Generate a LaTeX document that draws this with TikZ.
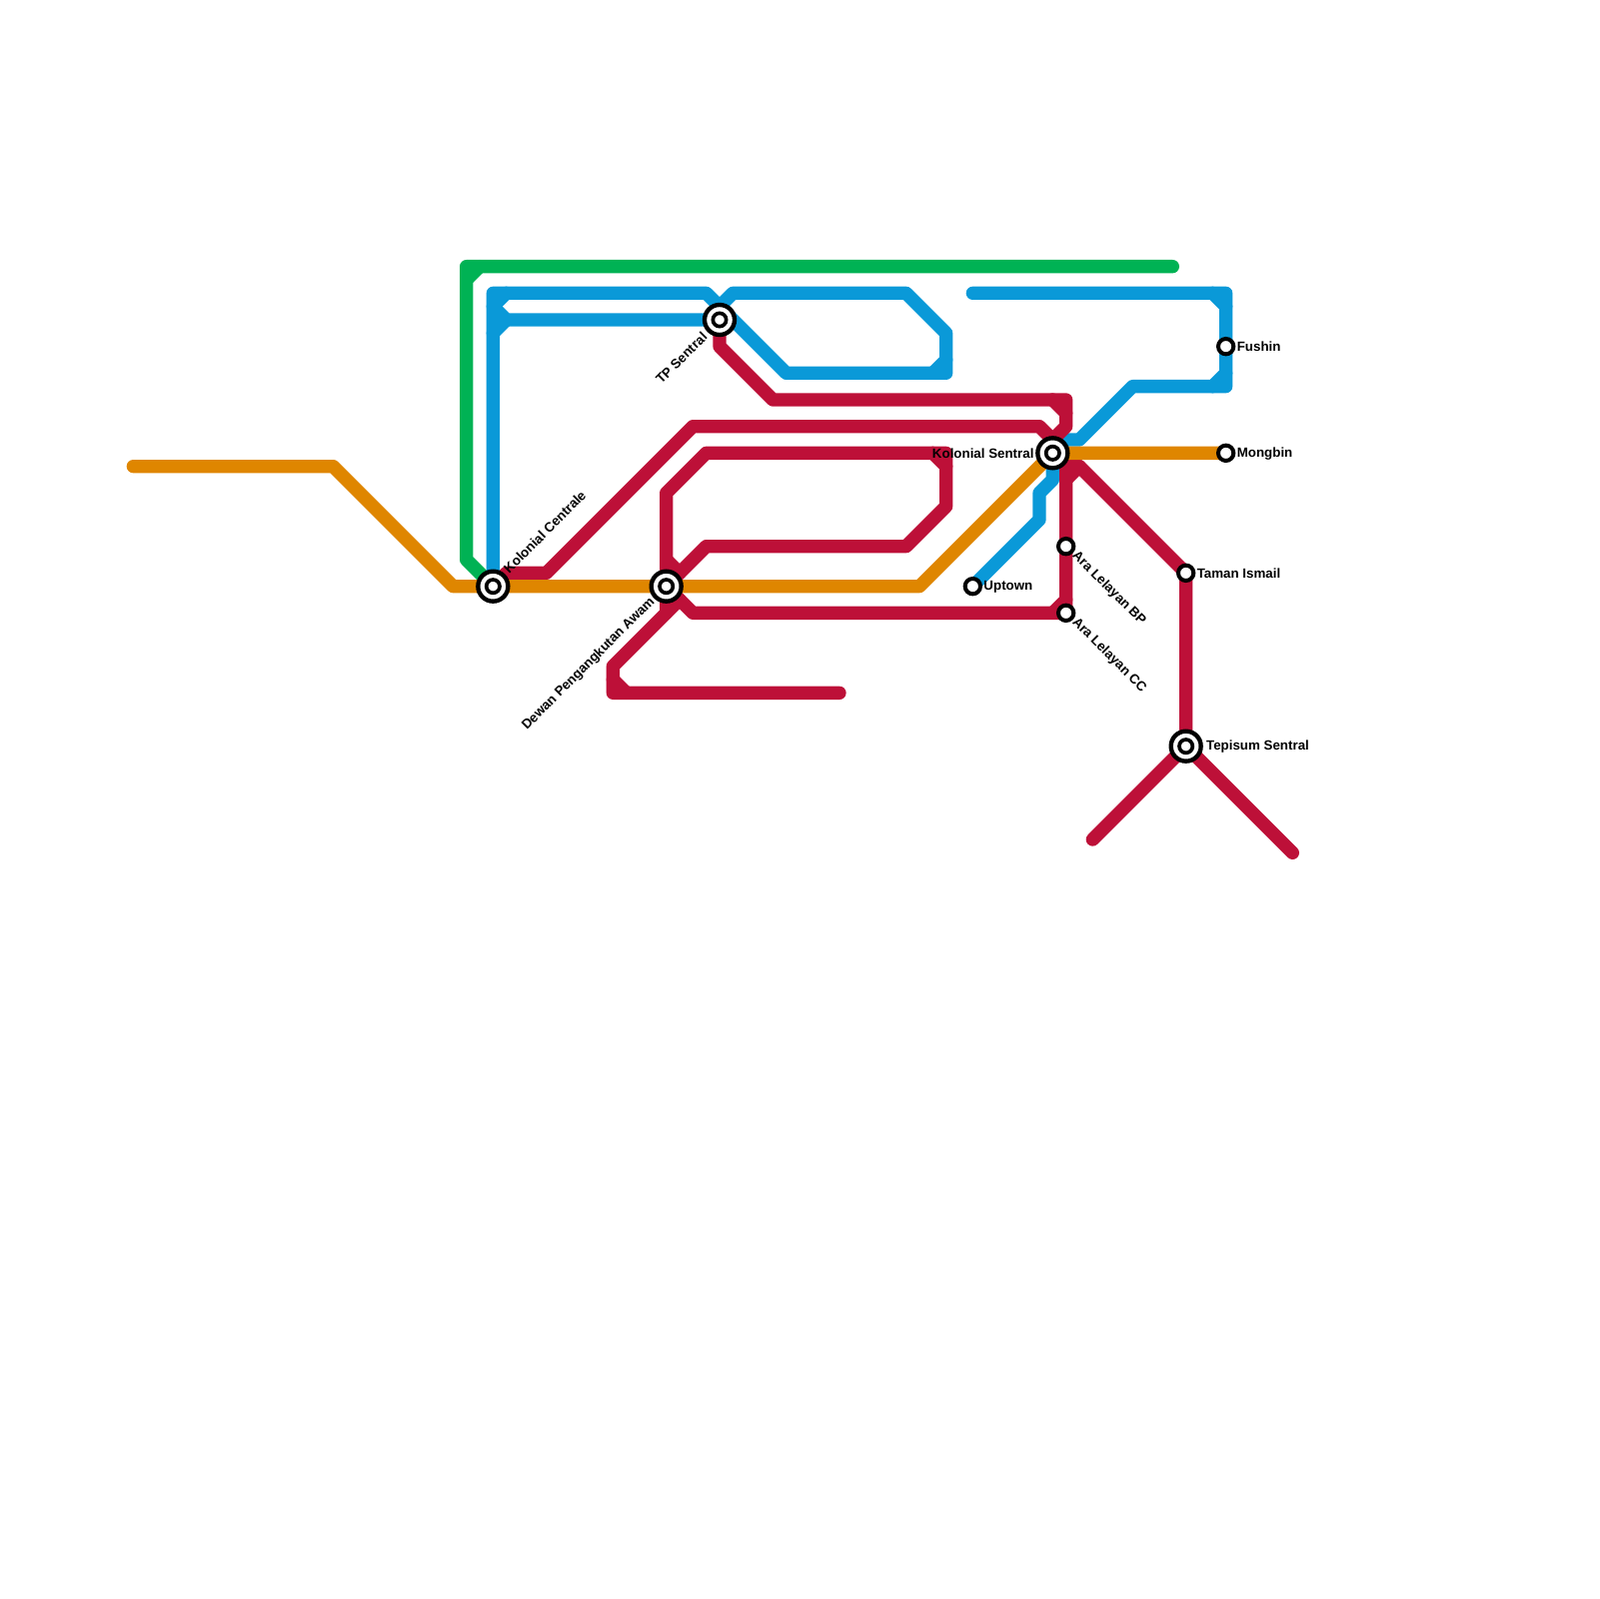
\documentclass[tikz,border=0pt]{standalone}
\usepackage{fontspec}
\setmainfont{Liberation Sans}
\usetikzlibrary{backgrounds}

\definecolor{linegreen}{HTML}{00B254}
\definecolor{lineblue}{HTML}{0A99D8}
\definecolor{linered}{HTML}{BD1038}
\definecolor{lineorange}{HTML}{DF8600}

\begin{document}
\begin{tikzpicture}[
  x=2mm, y=-2mm,
  metro/.style={line width=2mm, line cap=round, line join=round},
  hub/.style={circle, draw=black, fill=white, line width=0.65mm, minimum size=4.5mm, inner sep=0pt,
    path picture={\draw[line width=0.55mm] (path picture bounding box.center) circle (1mm);}},
  halt/.style={circle, draw=black, fill=white, line width=0.6mm, minimum size=2.3mm, inner sep=0pt},
  stationname/.style={font=\fontsize{5.69}{6.8}\selectfont\bfseries, text=black, inner sep=0pt},
]
\useasboundingbox (0,0) rectangle (120,120);

% === STATIONS ===
\node[hub] (kcentrale) at (37,44) {};
\node[hub] (dewan) at (50,44) {};
\node[hub] (tpsentral) at (54,24) {};
\node[hub] (ksentral) at (79,34) {};
\node[hub] (tepisum) at (89,56) {};
\node[halt] (uptown) at (73,44) {};
\node[halt] (arabp) at (80,41) {};
\node[halt] (aracc) at (80,46) {};
\node[halt] (taman) at (89,43) {};
\node[halt] (fushin) at (92,26) {};
\node[halt] (mongbin) at (92,34) {};

% === STATION NAMES ===
\node[stationname, rotate=45, anchor=west] (kcentraletext) at (37.95,42.85) {Kolonial Centrale};
\node[stationname, rotate=45, anchor=east] (dewantext) at (49,45) {Dewan Pengangkutan Awam};
\node[stationname, rotate=45, anchor=east] (tpsentraltext) at (52.9,25.1) {TP Sentral};
\node[stationname, anchor=east] (ksentraltext) at (77.62,34.05) {Kolonial Sentral};
\node[stationname, anchor=west] (tepisumtext) at (90.5,56.05) {Tepisum Sentral};
\node[stationname, anchor=west] (uptowntext) at (73.8,44.05) {Uptown};
\node[stationname, rotate=-45, anchor=west] (arabptext) at (80.6,41.55) {Ara Lelayan BP};
\node[stationname, rotate=-45, anchor=west] (araactext) at (80.6,46.55) {Ara Lelayan CC};
\node[stationname, anchor=west] (tamantext) at (89.8,43) {Taman Ismail};
\node[stationname, anchor=west] (fushintext) at (92.8,26) {Fushin};
\node[stationname, anchor=west] (mongbintext) at (92.8,34.05) {Mongbin};

% === LINES ===
\begin{scope}[on background layer]
% green
\draw[metro, linegreen] (88,20) -- (35,20) -- (35,42) -- (kcentrale.center);
\draw[metro, linegreen] (36,20) -- (35,21);

% blue
\draw[metro, lineblue] (kcentrale.center) -- (37,22) -- (53,22) -- (54,23) -- (55,22) -- (68,22)
  -- (71,25) -- (71,28) -- (59,28) -- (54,23) -- (tpsentral.center);
\draw[metro, lineblue] (38,22) -- (37,23) -- (38,24) -- (tpsentral.center);
\draw[metro, lineblue] (38,24) -- (37,25);
\draw[metro, lineblue] (70,28) -- (71,27);
\draw[metro, lineblue] (73,22) -- (92,22) -- (fushin.center) -- (92,29) -- (85,29) -- (81,33) -- (80,33)
  -- (ksentral.center) -- (79,36) -- (78,37) -- (78,39) -- (uptown.center);
\draw[metro, lineblue] (91,22) -- (92,23);
\draw[metro, lineblue] (91,29) -- (92,28);

% red
\draw[metro, linered] (kcentrale.center) -- (38,43) -- (41,43) -- (52,32) -- (78,32) -- (79,33) -- (ksentral.center);
\draw[metro, linered] (tpsentral.center) -- (54,26) -- (58,30) -- (80,30) -- (80,32) -- (79,33);
\draw[metro, linered] (79,30) -- (80,31);
\draw[metro, linered] (dewan.center) -- (50,37) -- (53,34) -- (71,34) -- (71,38) -- (68,41) -- (53,41) -- (dewan.center);
\draw[metro, linered] (70,34) -- (71,35);
\draw[metro, linered] (50,42) -- (51,43);
\draw[metro, linered] (dewan.center) -- (50,46);
\draw[metro, linered] (51,45) -- (46,50) -- (46,52) -- (63,52);
\draw[metro, linered] (46,51) -- (47,52);
\draw[metro, linered] (dewan.center) -- (52,46) -- (aracc.center) -- (arabp.center) -- (80,35) -- (ksentral.center);
\draw[metro, linered] (79,46) -- (80,45);
\draw[metro, linered] (80,36) -- (81,35);
\draw[metro, linered] (80,35) -- (81,35) -- (taman.center) -- (tepisum.center) -- (82,63);
\draw[metro, linered] (tepisum.center) -- (97,64);

% orange
\draw[metro, lineorange] (10,35) -- (25,35) -- (34,44) -- (kcentrale.center) -- (dewan.center) -- (69,44)
  -- (ksentral.center) -- (mongbin.center);
\end{scope}
\end{tikzpicture}
\end{document}
